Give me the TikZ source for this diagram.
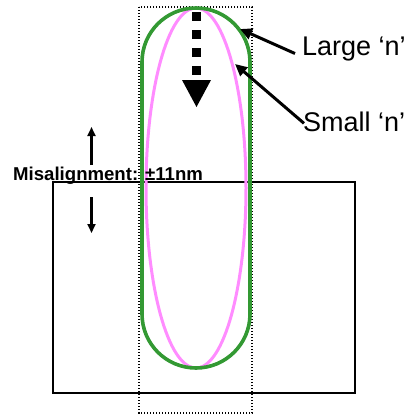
\documentclass[tikz,border=0pt]{standalone}
\usepackage{fontspec}
\setmainfont{Liberation Sans}
\usetikzlibrary{arrows.meta}
\definecolor{ngreen}{RGB}{51,153,51}
\definecolor{npink}{RGB}{255,140,255}
\tikzset{
  lbl/.style={anchor=base west,inner sep=0pt,font=\fontsize{27}{31}\selectfont},
  misal/.style={anchor=base west,inner sep=0pt,font=\fontsize{18.6}{21}\selectfont\bfseries},
  ptr/.style={line width=3pt,-{Triangle[length=12pt,width=11pt]}},
  vptr/.style={line width=2.2pt,-{Triangle[length=9pt,width=8pt]}},
  boxline/.style={line width=1.6pt},
  dotbox/.style={line width=1.4pt,dash pattern=on 1.4pt off 1.6pt}
}
\begin{document}
\begin{tikzpicture}[x=1pt,y=-1pt]
\useasboundingbox (0,0) rectangle (413,415);
% wafer rectangle
\draw[boxline] (53,182) rectangle (355,393);
% dotted box
\draw[dotbox] (139,7) rectangle (252,413);
% pink ellipse
\draw[npink,line width=3pt] (196,188) ellipse [x radius=50, y radius=180];
% green stadium
\draw[ngreen,line width=3.6pt,rounded corners=54pt] (142,8) rectangle (250,368);
% dashed arrow
\draw[line width=9pt,dash pattern=on 8.5pt off 9.5pt] (196.5,12) -- (196.5,78);
\fill (182,80) -- (211,80) -- (196.5,107) -- cycle;
% labels
\node[lbl] (large) at (302,55) {Large ‘n’};
\node[lbl] (small) at (303,131) {Small ‘n’};
\coordinate (lt) at (240,29);
\coordinate (st) at (235,64);
\draw[ptr] ([xshift=-7pt,yshift=-5pt]large.west) -- (lt);
\draw[ptr] ([xshift=1pt,yshift=-2pt]small.west) -- (st);
% misalignment
\node[misal] (mis) at (13,180) {Misalignment: ±11nm};
\coordinate (ut) at (91.5,127);
\coordinate (dt) at (91.5,233);
\coordinate (us) at (91.5,165);
\coordinate (ds) at (91.5,197);
\draw[vptr] (us) -- (ut);
\draw[vptr] (ds) -- (dt);
\end{tikzpicture}
\end{document}
